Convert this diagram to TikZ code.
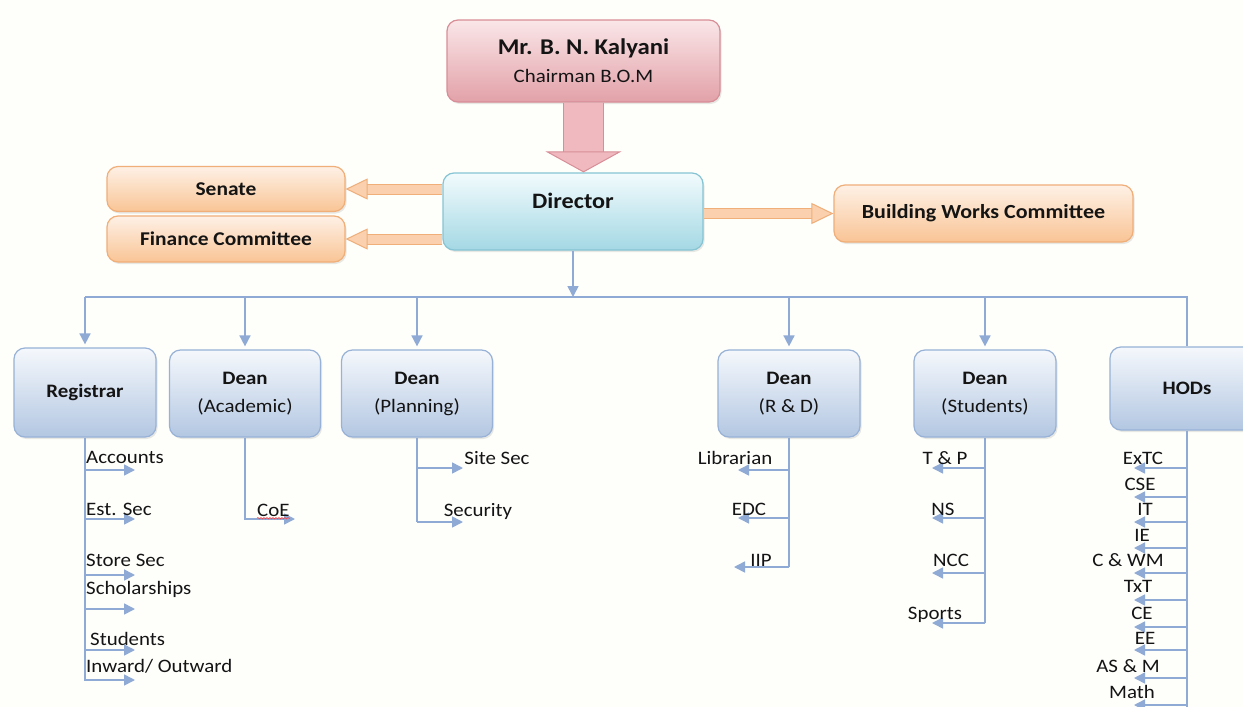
\documentclass[tikz,border=0pt]{standalone}
\usepackage{fontspec}
\setmainfont[FakeStretch=1.1]{Carlito}
\usetikzlibrary{arrows.meta,
                shadows,
                decorations.pathmorphing}

\definecolor{bg}{HTML}{FEFEFB}
\definecolor{utop}{HTML}{F5F8FC}
\definecolor{ubot}{HTML}{B3C7E2}
\definecolor{ubord}{HTML}{97B2D6}
\definecolor{dtop}{HTML}{F2FBFD}
\definecolor{dbot}{HTML}{A4D8E4}
\definecolor{dbord}{HTML}{86C4D4}
\definecolor{ctop}{HTML}{FAE6E8}
\definecolor{cbot}{HTML}{E2A1A8}
\definecolor{cbord}{HTML}{D88E97}
\definecolor{otop}{HTML}{FEF1E6}
\definecolor{obot}{HTML}{F9C495}
\definecolor{obord}{HTML}{F0AE78}
\definecolor{ofill}{HTML}{FAD0AE}
\definecolor{pfill}{HTML}{EFB9BF}
\definecolor{linkc}{HTML}{8FAAD4}
\definecolor{ink}{HTML}{141414}

\begin{document}
\begin{tikzpicture}[
        x=1pt, y=-1pt,
        font=\fontsize{19}{28}\selectfont, text=ink,
  box/.style = {rounded corners=11pt, line width=1.2pt, align=center, inner sep=0pt,
                drop shadow={opacity=.18, shadow xshift=1.5pt, shadow yshift=-2pt}},
 unit/.style = {box, draw=ubord, top color=utop, bottom color=ubot,
                minimum width=142pt, minimum height=87pt},
  com/.style = {box, draw=obord, top color=otop, bottom color=obot,
                minimum width=238pt, minimum height=45pt,
                font=\fontsize{19.5}{24}\selectfont\bfseries},
  sub/.style = {inner sep=0pt, text height=12pt, text depth=0pt},
 line/.style = {draw=linkc, line width=1.6pt},
 link/.style = {line, -{Triangle[length=11pt,width=11pt]}},
  fat/.style = {preaction={draw=obord, line width=11pt, shorten >=20pt, arrows=-},
                draw=ofill, line width=9pt,
                -{Triangle[length=22pt,width=21pt,fill=ofill,color=obord,line width=1pt]}},
  big/.style = {preaction={draw=cbord, line width=41pt, shorten >=19pt, arrows=-},
                draw=pfill, line width=39pt,
                -{Triangle[length=21pt,width=76pt,fill=pfill,color=cbord,line width=1pt]}}
                        ]
\useasboundingbox (0,0) rectangle (1243,707);
\clip (0,0) rectangle (1243,707);
\fill[bg] (0,0) rectangle (1243,707);

% top
\node (chair) at (583.5,61) [box, draw=cbord, top color=ctop, bottom color=cbot,
      minimum width=273pt, minimum height=82pt]
      {{\fontsize{22.5}{28}\selectfont\bfseries Mr. B. N. Kalyani}\\Chairman B.O.M};
\node (dir) at (573,211.5) [box, draw=dbord, top color=dtop, bottom color=dbot,
      minimum width=260pt, text height=35pt, text depth=42pt,
      font=\fontsize{22}{26}\selectfont\bfseries] {Director};
\node (senate) at (226,189) [com] {Senate};
\node (fin) at (226,239) [com, minimum height=46pt] {Finance Committee};
\node (bwc) at (983.5,213.5) [com, minimum width=299pt, minimum height=57pt,
      font=\fontsize{20}{24}\selectfont\bfseries] {Building Works Committee};

% second row
\node (reg) at (85,392.5) [unit, minimum height=89pt] {\bfseries Registrar};
\node (acad) at (245,393.5) [unit, minimum width=151pt] {\textbf{Dean}\\(Academic)};
\node (plan) at (417,393.5) [unit, minimum width=151pt] {\textbf{Dean}\\(Planning)};
\node (rnd) at (789,393.5) [unit] {\textbf{Dean}\\(R \& D)};
\node (stud) at (985,393.5) [unit] {\textbf{Dean}\\(Students)};
\node (hods) at (1187,388.5) [unit, minimum width=154pt, minimum height=83pt] {\bfseries HODs};

\draw[big] (chair.south) -- (chair.south |- dir.north);
\draw[fat] (dir.west |- senate.east) -- (senate.east);
\draw[fat] (dir.west |- fin.east) -- (fin.east);
\draw[fat] (dir.east |- bwc.west) -- (bwc.west);

\coordinate (bus) at (573,297);
\draw[link] (dir.south) -- (bus);
\draw[line] (reg.north |- bus) -- (hods.north |- bus) -- (hods.north);
\draw[link, shorten >=3pt] (reg.north |- bus) -- (reg.north);
\draw[link, shorten >=3pt] (acad.north |- bus) -- (acad.north);
\draw[link, shorten >=3pt] (plan.north |- bus) -- (plan.north);
\draw[link, shorten >=3pt] (rnd.north |- bus) -- (rnd.north);
\draw[link, shorten >=3pt] (stud.north |- bus) -- (stud.north);

% registrar
\draw[line] (reg.south) -- (reg.south |- 0,681);
\foreach \y/\ty/\tx/\t in {470/457/86/Accounts, 519/509/86/Est. Sec,
                           575/560/86/Store Sec, 609/588/86/Scholarships,
                           650/639/90/Students, 680/666/86/{Inward/ Outward}}
   {\coordinate (r\y) at (135,\y);
    \draw[link] (reg.south |- r\y) -- (r\y);
    \node (rl\y) at (\tx,\ty) [sub, anchor=west] {\t};}

% academic
\coordinate (coe) at (295,519);
\draw[link] (acad.south) |- (coe);
\node (coel) at (257,510) [sub, anchor=west] {CoE};
\draw[red!75, line width=.6pt, decorate,
      decoration={snake, amplitude=.7pt, segment length=3pt}]
      ([yshift=-2pt]coel.south west) -- ([yshift=-2pt]coel.south east);

% planning
\draw[line] (plan.south) -- (plan.south |- 0,522);
\foreach \y/\tx/\ty/\t in {468/497/458/Site Sec, 522/478/510/Security}
   {\coordinate (p\y) at (463,\y);
    \draw[link] (plan.south |- p\y) -- (p\y);
    \node (pl\y) at (\tx,\ty) [sub] {\t};}

% r & d
\draw[line] (rnd.south) -- (rnd.south |- 0,567);
\foreach \y/\ex/\tx/\ty/\t in {470/738/735/458/Librarian, 518/738/749/509/EDC,
                               567/734/761/560/IIP}
   {\coordinate (d\y) at (\ex,\y);
    \draw[link] (rnd.south |- d\y) -- (d\y);
    \node (dl\y) at (\tx,\ty) [sub] {\t};}

% students
\draw[line] (stud.south) -- (stud.south |- 0,623);
\foreach \y/\tx/\ty/\t in {468/945/458/T \& P, 518/943/509/NS,
                           573/951/560/NCC, 623/935/613/Sports}
   {\coordinate (s\y) at (932,\y);
    \draw[link] (stud.south |- s\y) -- (s\y);
    \node (sl\y) at (\tx,\ty) [sub] {\t};}

% hods
\draw[line] (hods.south) -- (hods.south |- 0,707);
\foreach \y/\tx/\ty/\t in {468/1143/458/ExTC, 497/1140/484/CSE, 522/1145/509/IT,
                           548/1142/535/IE, 573/1128/560/C \& WM, 600/1138/586/TxT,
                           627/1142/613/CE, 650/1145/638/EE, 678/1128/666/AS \& M,
                           705/1132/692/Math}
   {\coordinate (h\y) at (1134,\y);
    \draw[link] (hods.south |- h\y) -- (h\y);
    \node (hl\y) at (\tx,\ty) [sub] {\t};}
\end{tikzpicture}
\end{document}
